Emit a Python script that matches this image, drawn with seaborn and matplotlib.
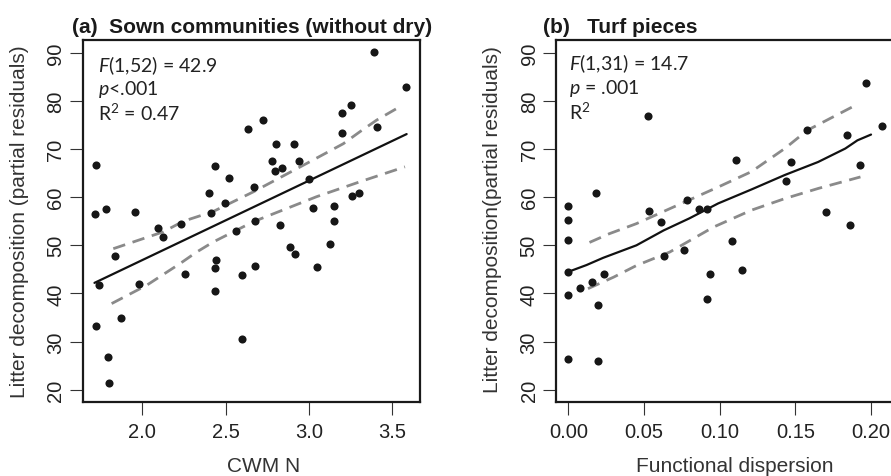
import matplotlib
matplotlib.use("Agg")
import matplotlib.pyplot as plt
import seaborn as sns
import pandas as pd

# ---------------- data ----------------
left_x = [3.390, 3.584, 3.255, 3.197, 3.197, 3.410, 2.727, 2.633, 2.803, 2.912,
          2.779, 2.940, 2.795, 2.839, 3.000, 2.436, 2.520, 2.673, 2.400, 2.496,
          2.410, 1.723, 1.717, 1.783, 1.956, 3.026, 3.151, 3.151, 3.261, 3.301,
          2.679, 2.829, 2.231, 2.096, 2.127, 2.560, 1.837, 1.743, 1.982, 1.723,
          1.873, 1.793, 1.801, 2.255, 2.444, 2.434, 2.436, 2.600, 2.679, 2.596,
          2.888, 2.916, 3.046, 3.127]
left_y = [90.2, 82.8, 79.1, 77.4, 73.4, 74.5, 76.0, 74.1, 71.0, 71.0,
          67.5, 67.5, 65.5, 66.1, 63.7, 66.4, 63.9, 62.1, 60.9, 58.8,
          56.8, 66.6, 56.4, 57.5, 56.9, 57.8, 58.1, 55.1, 60.3, 60.8,
          55.1, 54.2, 54.4, 53.5, 51.7, 53.0, 47.8, 41.7, 42.0, 33.3,
          35.0, 26.9, 21.4, 44.1, 47.0, 45.2, 40.5, 43.8, 45.8, 30.6,
          49.7, 48.3, 45.5, 50.3]

left_fit_x = [1.713, 3.586]
left_fit_y = [42.2, 73.1]
left_up_x = [1.826, 2.126, 2.246, 2.424, 2.666, 2.986, 3.206, 3.306, 3.406, 3.526]
left_up_y = [49.3, 52.8, 55.0, 57.0, 61.1, 67.0, 71.1, 73.6, 76.0, 78.4]
left_lo_x = [1.816, 2.026, 2.226, 2.326, 2.426, 2.666, 3.046, 3.306, 3.576]
left_lo_y = [37.9, 41.7, 46.2, 48.6, 50.7, 54.9, 60.1, 63.2, 66.3]

right_x = [0.197, 0.207, 0.158, 0.184, 0.193, 0.111, 0.147, 0.1436, 0.0526, 0.0182,
           0.0, 0.0, 0.0531, 0.0782, 0.0862, 0.0919, 0.061, 0.170, 0.186, 0.0,
           0.108, 0.0, 0.0, 0.0077, 0.0154, 0.0235, 0.0194, 0.0, 0.0194, 0.063,
           0.0763, 0.0933, 0.0916, 0.1146]
right_y = [83.8, 74.8, 73.9, 72.9, 66.6, 67.8, 67.2, 63.3, 76.8, 60.8,
           58.1, 55.3, 57.2, 59.5, 57.5, 57.5, 54.9, 57.0, 54.2, 51.1,
           51.0, 44.5, 39.7, 41.1, 42.3, 44.1, 37.6, 26.4, 25.9, 47.7,
           49.1, 44.1, 38.9, 44.9]

right_fit_x = [0.0, 0.012, 0.023, 0.045, 0.063, 0.080, 0.099, 0.121, 0.143, 0.165, 0.183, 0.191, 0.200]
right_fit_y = [44.5, 45.9, 47.4, 50.0, 53.1, 55.6, 58.7, 61.6, 64.6, 67.3, 70.1, 71.8, 73.0]
right_up_x = [0.014, 0.027, 0.045, 0.067, 0.099, 0.121, 0.143, 0.158, 0.188]
right_up_y = [50.6, 52.4, 54.5, 57.6, 62.1, 65.3, 70.1, 73.9, 78.8]
right_lo_x = [0.013, 0.030, 0.045, 0.067, 0.096, 0.121, 0.143, 0.165, 0.193]
right_lo_y = [41.0, 43.4, 45.8, 48.6, 53.8, 57.3, 59.7, 61.8, 64.2]

left_xticks = [2.0, 2.5, 3.0, 3.5]
left_xticklabels = ["2.0", "2.5", "3.0", "3.5"]
right_xticks = [0.00, 0.05, 0.10, 0.15, 0.20]
right_xticklabels = ["0.00", "0.05", "0.10", "0.15", "0.20"]
yticks = [20, 30, 40, 50, 60, 70, 80, 90]
yticklabels = ["20", "30", "40", "50", "60", "70", "80", "90"]

title_a = "(a)  Sown communities (without dry)"
title_b = "(b)   Turf pieces"
xlabel_a = "CWM N"
xlabel_b = "Functional dispersion"
ylabel_a = "Litter decomposition (partial residuals)"
ylabel_b = "Litter decomposition(partial residuals)"
stats_a = [r"$\mathit{F}$(1,52) = 42.9", r"$\mathit{p}$<.001", r"R$^{2}$ = 0.47"]
stats_b = [r"$\mathit{F}$(1,31) = 14.7", r"$\mathit{p}$ = .001", r"R$^{2}$"]

# ---------------- style ----------------
sns.set_theme(style="ticks")
plt.rcParams["font.family"] = ["Liberation Sans", "DejaVu Sans"]
plt.rcParams["mathtext.fontset"] = "custom"
plt.rcParams["mathtext.rm"] = "Lato"
plt.rcParams["mathtext.it"] = "Lato:italic"

W, H = 891, 477
fig = plt.figure(figsize=(W / 100, H / 100), dpi=100)


def fx(px):
    return px / W


def fy(py):
    return (H - py) / H


axA = fig.add_axes([fx(82.7), fy(403.3), 337.3 / W, 362.6 / H])
axB = fig.add_axes([fx(556.0), fy(403.3), 338.5 / W, 362.6 / H])

PT_COLOR = "#161616"
DASH_COLOR = "#8a8a8a"


def draw(ax, x, y, fx_, fy_, ux, uy, lx, ly):
    df = pd.DataFrame({"x": x, "y": y})
    sns.scatterplot(data=df, x="x", y="y", ax=ax, s=34, color=PT_COLOR,
                    edgecolor=PT_COLOR, linewidth=0, zorder=3)
    sns.lineplot(x=ux, y=uy, ax=ax, color=DASH_COLOR, lw=2.0, estimator=None,
                 linestyle=(0, (4.5, 2.8)), zorder=2)
    sns.lineplot(x=lx, y=ly, ax=ax, color=DASH_COLOR, lw=2.0, estimator=None,
                 linestyle=(0, (4.5, 2.8)), zorder=2)
    sns.lineplot(x=fx_, y=fy_, ax=ax, color="#111111", lw=1.6, estimator=None, zorder=2)
    for s in ax.spines.values():
        s.set_visible(True)
        s.set_linewidth(1.6)
        s.set_color("#1a1a1a")
    ax.set_ylim(17.4, 92.7)
    ax.set_yticks(yticks)
    ax.set_yticklabels(yticklabels, rotation=90, va="center")
    ax.tick_params(axis="both", direction="out", length=9.5, width=0.8,
                   color="#333333", labelsize=14.5, labelcolor="#222222")
    ax.tick_params(axis="x", pad=5)
    ax.tick_params(axis="y", pad=3)
    ax.set_xlabel("")
    ax.set_ylabel("")


draw(axA, left_x, left_y, left_fit_x, left_fit_y, left_up_x, left_up_y, left_lo_x, left_lo_y)
axA.set_xlim(1.6424, 3.6662)
axA.set_xticks(left_xticks)
axA.set_xticklabels(left_xticklabels)

draw(axB, right_x, right_y, right_fit_x, right_fit_y, right_up_x, right_up_y, right_lo_x, right_lo_y)
axB.set_xlim(-0.00813, 0.2155)
axB.set_xticks(right_xticks)
axB.set_xticklabels(right_xticklabels)

# titles
fig.text(fx(72), fy(33), title_a, fontsize=15, fontweight="bold", color="#1a1a1a", va="baseline")
fig.text(fx(543), fy(33), title_b, fontsize=15, fontweight="bold", color="#1a1a1a", va="baseline")

# axis labels
fig.text(fx(264), fy(467), xlabel_a, fontsize=15, color="#333333", ha="center", va="center")
fig.text(fx(735), fy(467), xlabel_b, fontsize=15, color="#333333", ha="center", va="center")
fig.text(fx(20), fy(222), ylabel_a, fontsize=15, color="#333333", rotation=90, ha="center", va="center")
fig.text(fx(492), fy(220), ylabel_b, fontsize=15, color="#333333", rotation=90, ha="center", va="center")

# stats annotations
for txt, yy in zip(stats_a, [71.7, 95, 120.7]):
    fig.text(fx(98.3), fy(yy), txt, fontsize=14, family="Lato", color="#222222", va="baseline")
for txt, yy in zip(stats_b, [70, 94, 120]):
    fig.text(fx(569), fy(yy), txt, fontsize=14, family="Lato", color="#222222", va="baseline")

fig.savefig("out.png", dpi=100)
